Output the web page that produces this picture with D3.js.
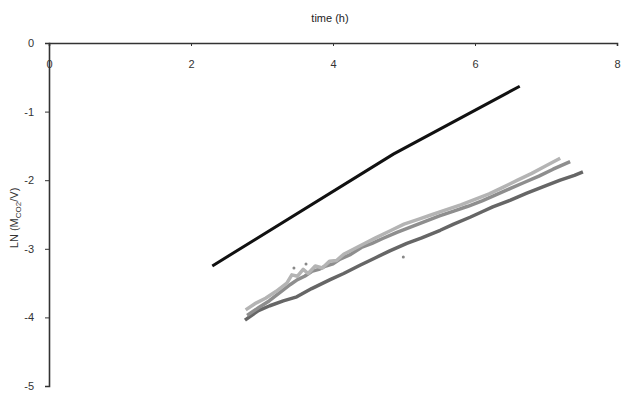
<!DOCTYPE html>
<html>
<head>
<meta charset="utf-8">
<script src="https://cdn.jsdelivr.net/npm/d3@7"></script>
<style>
  body { margin: 0; background: #fff; }
  svg { font-family: "Liberation Sans", Arial, sans-serif; }
</style>
</head>
<body>
<figure id="chart" style="margin:0"></figure>
<script>
// values
const xTicks = [0, 2, 4, 6, 8];
const yTicks = [0, -1, -2, -3, -4, -5];

// black line (model)
const modelT = [2.30, 4.85, 6.63];
const modelY = [-3.25, -1.62, -0.63];

// light grey series (top band)
const lightT = [2.77, 2.90, 3.05, 3.20, 3.35, 3.42, 3.50, 3.58, 3.65, 3.75, 3.85, 3.95, 4.05, 4.15, 4.30,
  4.45, 4.60, 4.80, 5.00, 5.20, 5.40, 5.60, 5.80, 6.00, 6.20, 6.40, 6.60, 6.80, 7.00, 7.20];
const lightY = [-3.89, -3.80, -3.72, -3.62, -3.50, -3.38, -3.40, -3.30, -3.36, -3.25, -3.28, -3.18, -3.17, -3.08, -3.00,
  -2.92, -2.84, -2.74, -2.64, -2.57, -2.50, -2.43, -2.36, -2.28, -2.20, -2.10, -2.00, -1.90, -1.79, -1.68];

// medium grey series
const midT = [2.79, 2.95, 3.10, 3.25, 3.40, 3.50, 3.60, 3.70, 3.80, 3.90, 4.00, 4.10, 4.25, 4.40, 4.55,
  4.70, 4.90, 5.10, 5.30, 5.50, 5.70, 5.90, 6.10, 6.30, 6.50, 6.70, 6.90, 7.10, 7.34];
const midY = [-3.97, -3.86, -3.76, -3.64, -3.52, -3.45, -3.40, -3.33, -3.30, -3.25, -3.22, -3.15, -3.08, -2.98, -2.92,
  -2.85, -2.76, -2.68, -2.60, -2.52, -2.45, -2.38, -2.30, -2.21, -2.12, -2.03, -1.94, -1.84, -1.73];

// dark grey series (lowest)
const darkT = [2.76, 2.95, 3.11, 3.30, 3.49, 3.70, 3.96, 4.15, 4.38, 4.60, 4.80, 5.04, 5.25, 5.51, 5.70,
  5.93, 6.10, 6.25, 6.50, 6.73, 7.00, 7.20, 7.40, 7.52];
const darkY = [-4.04, -3.90, -3.83, -3.76, -3.70, -3.58, -3.45, -3.36, -3.24, -3.13, -3.03, -2.92, -2.84, -2.73, -2.64,
  -2.54, -2.46, -2.39, -2.29, -2.19, -2.08, -2.00, -1.93, -1.88];

// a few stray points
const strayT = [3.45, 3.62, 4.99];
const strayY = [-3.28, -3.22, -3.12];

const margin = { top: 43, right: 4, bottom: 7, left: 49 };

const svg = d3.select('figure#chart')
  .append('svg')
  .attr('width', 621)
  .attr('height', 393)
  .append('g')
  .attr('transform', 'translate(' + margin.left + ',' + margin.top + ')');

const x = d3.scaleLinear().domain([0, 8]).range([0, 568]);
const y = d3.scaleLinear().domain([0, -5]).range([0, 343]);

const zip = (t, v) => t.map((d, i) => [d, v[i]]);
const line = d3.line().x(d => x(d[0])).y(d => y(d[1]));

// grey measured series
[[darkT, darkY, '#666666'], [midT, midY, '#8e8e8e'], [lightT, lightY, '#b4b4b4']].forEach(s => {
  svg.append('path')
    .datum(zip(s[0], s[1]))
    .attr('fill', 'none')
    .attr('stroke', s[2])
    .attr('stroke-width', 3.5)
    .attr('stroke-linejoin', 'round')
    .attr('d', line);
});

svg.selectAll('.stray')
  .data(zip(strayT, strayY))
  .enter()
  .append('circle')
  .attr('cx', d => x(d[0]))
  .attr('cy', d => y(d[1]))
  .attr('r', 1.5)
  .attr('fill', '#888');

// black line
svg.append('path')
  .datum(zip(modelT, modelY))
  .attr('fill', 'none')
  .attr('stroke', '#111')
  .attr('stroke-width', 3)
  .attr('d', line);

// Y axis
const yAxis = svg.append('g')
  .call(d3.axisLeft(y).tickValues(yTicks).tickFormat(d => String(d)).tickSize(4).tickPadding(11));
yAxis.select('.domain').attr('stroke', '#333').attr('stroke-width', 1.6);

// X axis along y = 0, labels underneath
const xAxis = svg.append('g')
  .call(d3.axisBottom(x).tickValues(xTicks).tickSize(3).tickPadding(14));
xAxis.select('.domain').attr('stroke', '#333').attr('stroke-width', 1.6);

[xAxis, yAxis].forEach(a => {
  a.selectAll('text').attr('font-size', 11).attr('fill', '#333');
  a.selectAll('.tick line').attr('stroke', '#333');
});

// titles
svg.append('text')
  .attr('x', x(4) - 3)
  .attr('y', -21)
  .attr('text-anchor', 'middle')
  .attr('font-size', 11)
  .attr('fill', '#222')
  .text('time (h)');

const yl = svg.append('text')
  .attr('transform', 'translate(' + (-31) + ',' + y(-2.55) + ')rotate(-90)')
  .attr('text-anchor', 'middle')
  .attr('font-size', 11)
  .attr('fill', '#333');
yl.append('tspan').text('LN (M');
yl.append('tspan').attr('font-size', 8).attr('dy', 3).text('CO2');
yl.append('tspan').attr('dy', -3).text('/V)');
</script>
</body>
</html>
